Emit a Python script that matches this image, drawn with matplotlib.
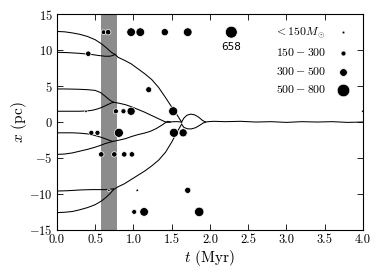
import numpy as np
import matplotlib
matplotlib.use("Agg")
import matplotlib.pyplot as plt

plt.rcParams['font.family'] = 'serif'
plt.rcParams['font.serif'] = ['cmr10']
plt.rcParams['mathtext.fontset'] = 'cm'
plt.rcParams['axes.formatter.use_mathtext'] = True

# trajectories of the eight clusters (t in Myr, x in pc)
tA = [0, 0.1, 0.2, 0.3, 0.4, 0.5, 0.58, 0.65, 0.70, 0.74, 0.76]
xA = [12.6, 12.55, 12.4, 12.2, 11.9, 11.45, 10.9, 10.3, 9.8, 9.5, 9.4]
tB = [0, 0.15, 0.3, 0.45, 0.55, 0.63, 0.69, 0.73, 0.76]
xB = [9.7, 9.65, 9.55, 9.4, 9.25, 9.15, 9.15, 9.25, 9.4]
tC = [0, 0.1, 0.2, 0.3, 0.4, 0.5, 0.57, 0.63, 0.68, 0.72, 0.74]
xC = [4.6, 4.6, 4.58, 4.55, 4.5, 4.4, 4.1, 3.6, 3.15, 2.85, 2.75]
tD = [0, 0.1, 0.2, 0.3, 0.4, 0.47, 0.54, 0.60, 0.65, 0.70, 0.74]
xD = [1.5, 1.5, 1.5, 1.5, 1.55, 1.65, 1.85, 2.1, 2.35, 2.6, 2.75]
tE = [0, 0.1, 0.2, 0.3, 0.4, 0.47, 0.54, 0.60, 0.65, 0.70, 0.73]
xE = [-1.5, -1.5, -1.5, -1.55, -1.65, -1.8, -2.0, -2.2, -2.4, -2.6, -2.7]
tF = [0, 0.1, 0.2, 0.3, 0.4, 0.5, 0.57, 0.63, 0.68, 0.73]
xF = [-4.5, -4.45, -4.3, -4.05, -3.8, -3.5, -3.25, -3.0, -2.85, -2.7]
tG = [0, 0.15, 0.3, 0.45, 0.55, 0.63, 0.69, 0.74]
xG = [-9.6, -9.55, -9.45, -9.4, -9.4, -9.4, -9.35, -9.3]
tH = [0, 0.1, 0.2, 0.3, 0.4, 0.5, 0.58, 0.64, 0.69, 0.74]
xH = [-12.6, -12.55, -12.45, -12.2, -11.9, -11.5, -11.0, -10.5, -10.0, -9.4]

# merged pairs
tAB = [0.76, 0.80, 0.88, 0.97, 1.06, 1.15, 1.24, 1.33, 1.42, 1.50, 1.57, 1.63]
xAB = [9.4, 9.0, 8.6, 8.1, 7.4, 6.7, 5.9, 4.8, 3.4, 2.1, 1.0, 0.0]
tCD = [0.74, 0.82, 0.90, 0.98, 1.06, 1.14, 1.22, 1.30, 1.37, 1.41, 1.45, 1.48]
xCD = [2.75, 2.6, 2.4, 2.1, 1.75, 1.4, 1.0, 0.6, 0.25, 0.05, -0.05, 0.0]
tEF = [0.73, 0.82, 0.90, 0.98, 1.06, 1.14, 1.22, 1.30, 1.37, 1.41, 1.45, 1.48]
xEF = [-2.7, -2.5, -2.3, -2.0, -1.75, -1.55, -1.3, -0.9, -0.45, -0.15, 0.1, 0.0]
tGH = [0.74, 0.80, 0.88, 0.97, 1.06, 1.15, 1.24, 1.33, 1.42, 1.50, 1.56, 1.63]
xGH = [-9.4, -9.0, -8.6, -8.0, -7.4, -6.8, -6.1, -5.3, -4.2, -2.8, -1.6, -0.3]

# late stage
tIn = [1.48, 1.53, 1.58, 1.63]
xIn = [0.0, 0.05, 0.05, 0.0]
tUp = [1.63, 1.66, 1.70, 1.75, 1.80, 1.85, 1.90, 1.94]
xUp = [0.0, 0.55, 0.95, 1.1, 1.0, 0.7, 0.25, 0.0]
tLo = [1.63, 1.66, 1.71, 1.76, 1.81, 1.86, 1.91, 1.94]
xLo = [-0.3, -0.75, -0.95, -0.95, -0.8, -0.5, -0.15, 0.0]
tEnd = [1.94, 1.98, 2.05, 2.2, 2.4, 2.6, 2.8, 3.0, 3.2, 3.4, 3.6, 3.8, 4.0]
xEnd = [0.0, 0.05, 0.1, 0.05, 0.1, 0.0, 0.05, -0.05, 0.05, 0.0, 0.05, -0.05, 0.0]

# star formation events: time, position, mass (Msun)
dot_t = [0.61, 0.67, 0.97, 1.09, 1.41, 1.71, 2.28,
         0.41, 1.20,
         0.38, 0.77, 0.87, 0.97, 1.52,
         0.45, 0.53, 0.81, 1.53, 1.65,
         0.58, 0.75, 0.88, 0.98,
         0.68, 1.05, 1.71,
         1.01, 1.14, 1.86,
         4.0]
dot_x = [12.5, 12.5, 12.5, 12.5, 12.5, 12.5, 12.5,
         9.5, 4.5,
         1.5, 1.5, 1.5, 1.5, 1.5,
         -1.5, -1.5, -1.5, -1.5, -1.5,
         -4.5, -4.5, -4.5, -4.5,
         -9.5, -9.5, -9.5,
         -12.5, -12.5, -12.5,
         1.5]
dot_m = [260, 300, 480, 480, 400, 480, 658,
         300, 330,
         140, 280, 280, 450, 500,
         280, 280, 500, 500, 450,
         300, 300, 300, 300,
         140, 140, 340,
         270, 480, 520,
         140]

leg_labels = [r'$<150M_\odot$', r'$150-300$', r'$300-500$', r'$500-800$']
leg_m = [150, 270, 420, 690]


def msize(m):
    # marker area in pt^2, diameter roughly proportional to mass
    return (np.asarray(m) * 0.013) ** 2


fig = plt.figure(figsize=(3.82, 2.73), dpi=100)
ax = fig.add_axes([0.149, 0.158, 0.801, 0.79])

ax.axvspan(0.57, 0.79, color='0.55', lw=0, zorder=1)

for tt, xx in [(tA, xA), (tB, xB), (tC, xC), (tD, xD), (tE, xE), (tF, xF),
               (tG, xG), (tH, xH), (tAB, xAB), (tCD, xCD), (tEF, xEF),
               (tGH, xGH), (tIn, xIn), (tUp, xUp), (tLo, xLo), (tEnd, xEnd)]:
    ax.plot(tt, xx, color='k', lw=0.75, zorder=2)

ax.scatter(dot_t, dot_x, s=msize(dot_m), c='k', edgecolors='white',
           linewidths=0.5, zorder=3)
ax.text(2.28, 10.5, '658', family='DejaVu Sans', fontsize=7.5,
        ha='center', va='center')

handles = [ax.scatter([], [], s=msize(m), c='k', edgecolors='white', linewidths=0.4)
           for m in leg_m]
ax.legend(handles, leg_labels, loc='upper right', frameon=False,
          markerfirst=False, scatterpoints=1, fontsize=8.5, labelspacing=0.55,
          handletextpad=0.4, borderaxespad=0.55, bbox_to_anchor=(1.01, 1.0))

ax.set_xlim(0, 4)
ax.set_ylim(-15, 15)
ax.set_xticks(np.arange(0, 4.01, 0.5))
ax.set_yticks(np.arange(-15, 16, 5))
ax.set_xticklabels([f'{v:.1f}' for v in np.arange(0, 4.01, 0.5)])
ax.tick_params(direction='in', top=True, right=True, length=4, width=0.6,
               labelsize=9, pad=3)
for sp in ax.spines.values():
    sp.set_linewidth(0.8)

ax.set_xlabel(r'$t$ (Myr)', fontsize=11, labelpad=1)
ax.set_ylabel(r'$x$ (pc)', fontsize=11, labelpad=0)

fig.savefig('out.png', dpi=100)
